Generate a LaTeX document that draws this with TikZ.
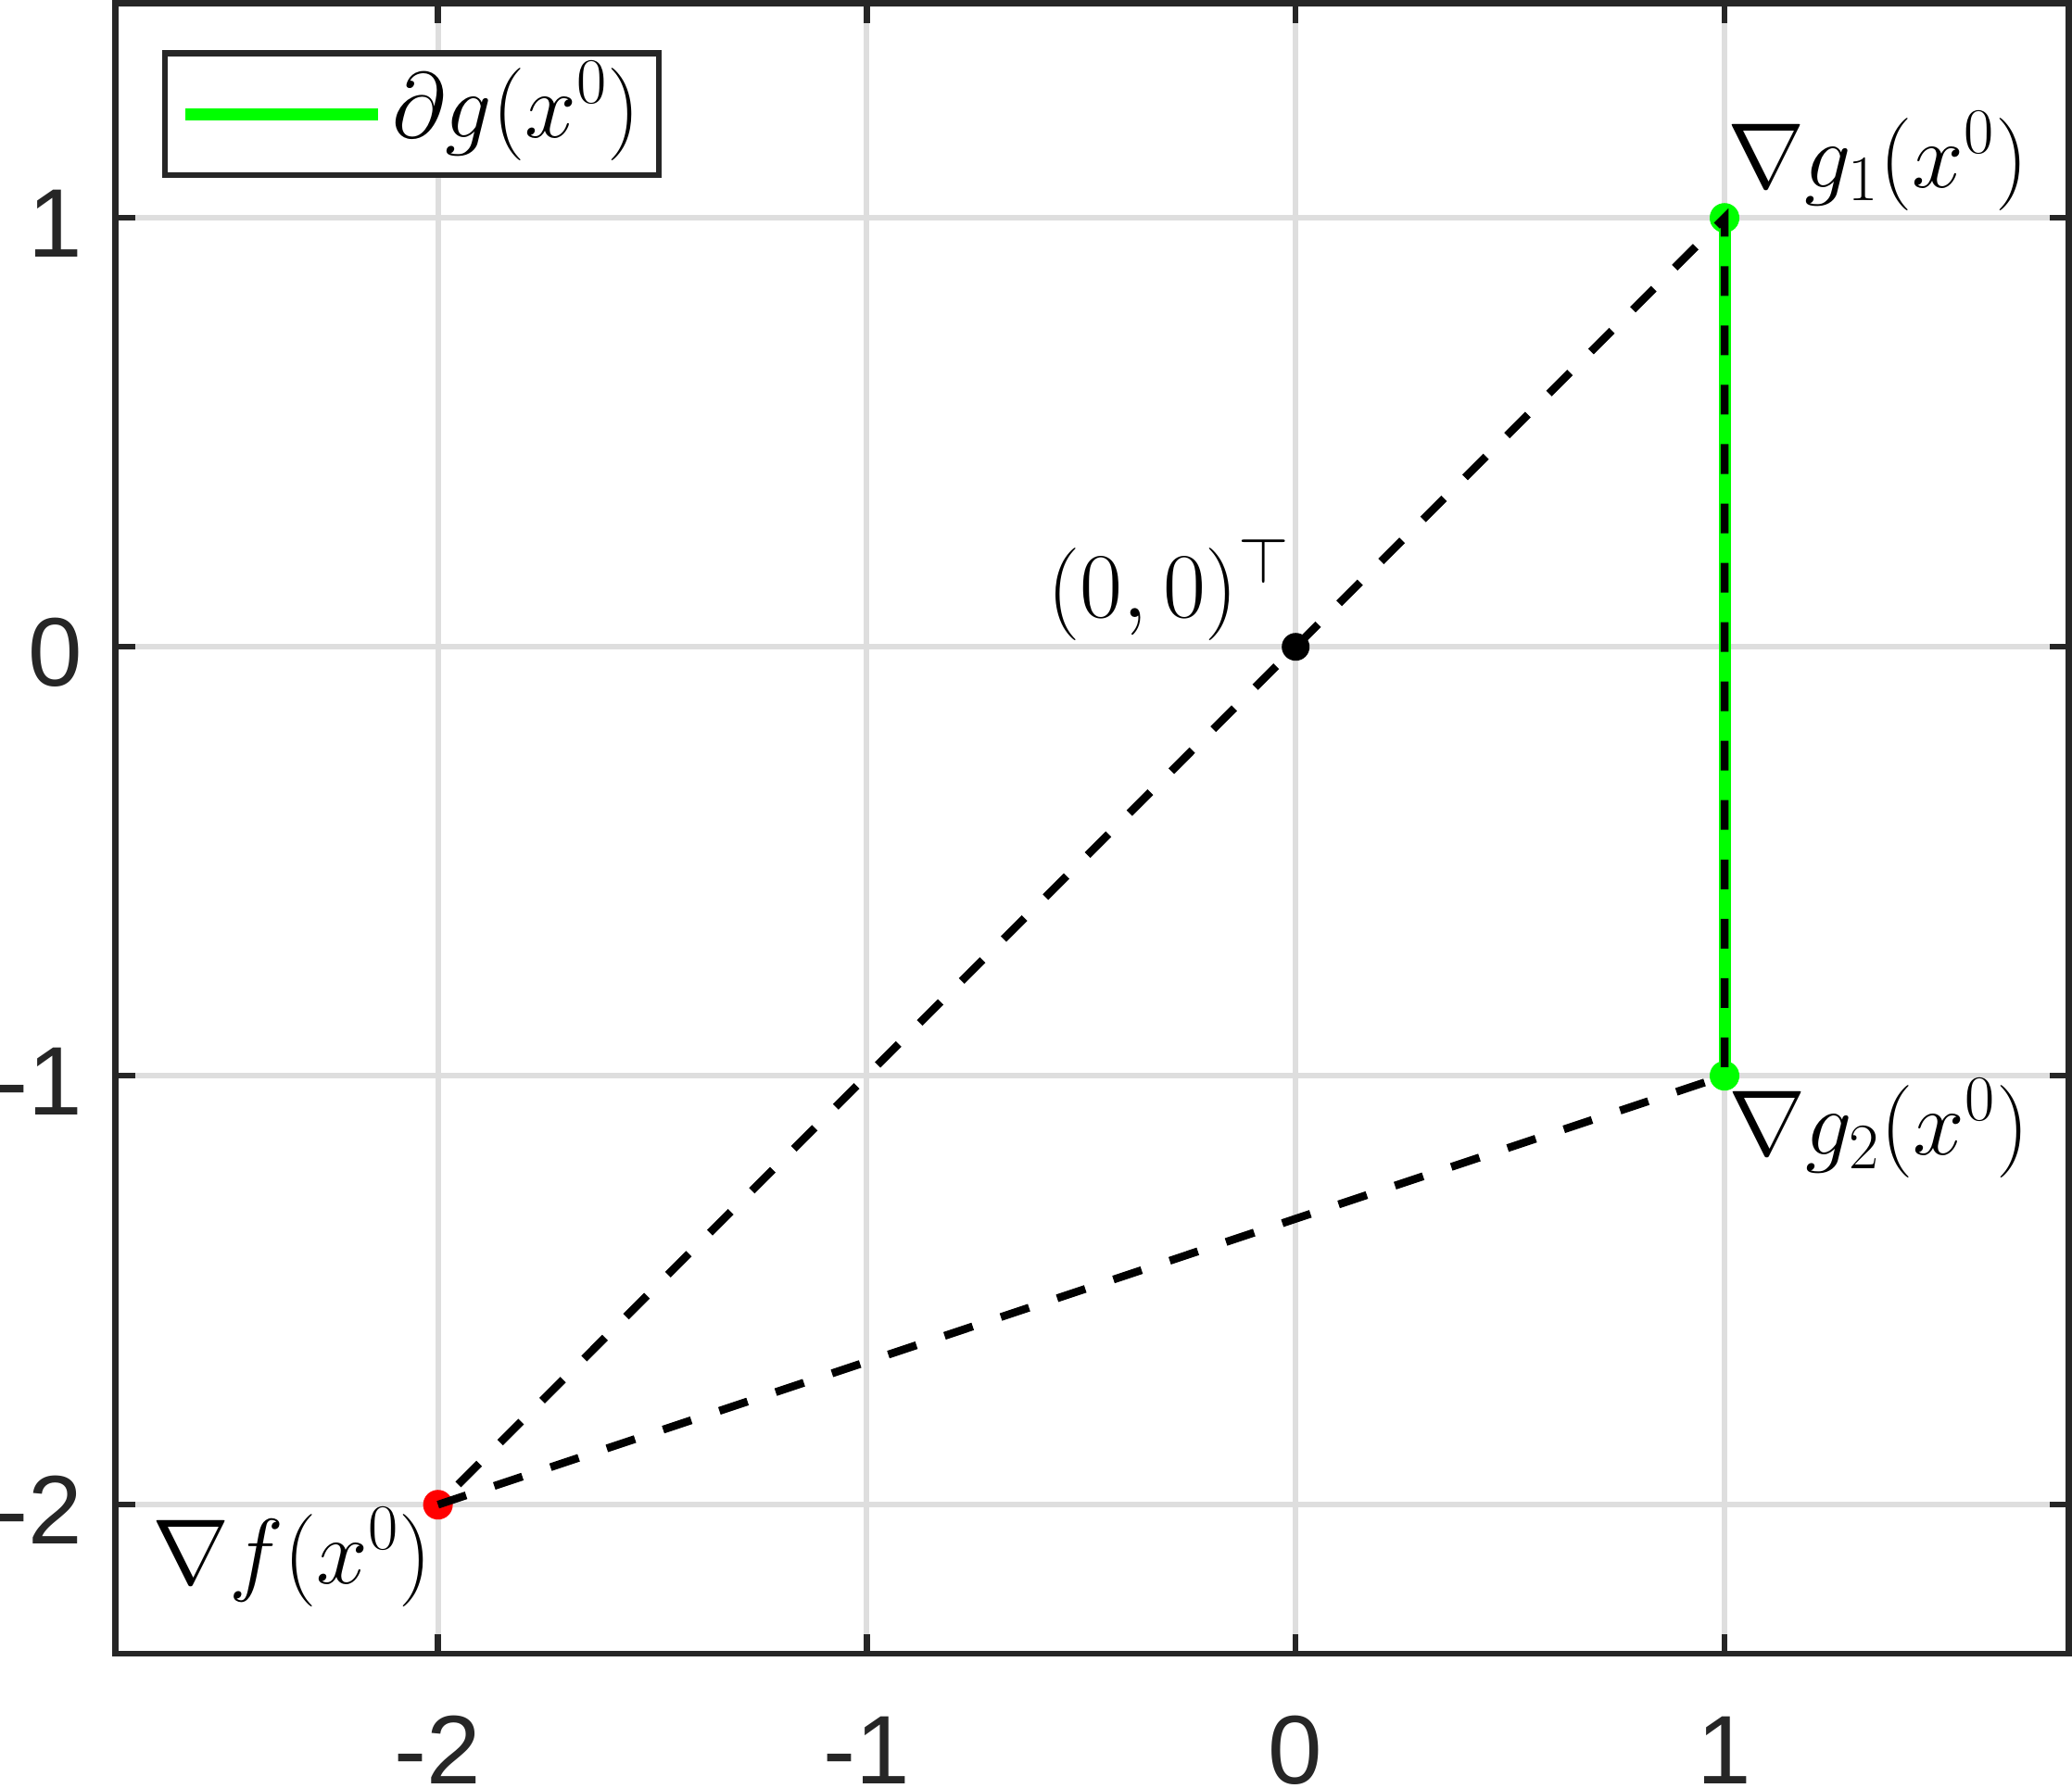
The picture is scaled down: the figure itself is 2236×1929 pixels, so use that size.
\RequirePackage{fix-cm}
\documentclass[tikz,border=0pt]{standalone}
\usepackage{fontspec}
\newfontfamily\ticklabelfont{Liberation Sans}
\definecolor{axc}{HTML}{262626}
\definecolor{gridc}{HTML}{DEDEDE}
\definecolor{mgreen}{HTML}{00FF00}
\begin{document}
\begin{tikzpicture}[x=0.01cm,y=-0.01cm,
  gridln/.style={draw=gridc,line width=0.06cm},
  axisln/.style={draw=axc,line width=0.068cm},
  tickln/.style={draw=axc,line width=0.065cm},
  ticklbl/.style={text=axc,inner sep=0pt,font=\ticklabelfont\fontsize{29.9pt}{36pt}\selectfont},
  mathlbl/.style={inner sep=0pt,font=\fontsize{28.4pt}{34pt}\selectfont},
  dashln/.style={draw=black,line width=0.085cm,dash pattern=on 0.32cm off 0.32cm},
  subgrad/.style={draw=mgreen,line width=0.13cm},
  dotmark/.style={circle,inner sep=0pt,minimum size=0.32cm}]
\useasboundingbox (0,0) rectangle (2236,1929);
\fill[white] (0,0) rectangle (2236,1929);
% grid
\foreach \gx in {472.6,935.4,1398.2,1861} \draw[gridln] (\gx,3.5) -- (\gx,1785);
\foreach \gy in {235.2,698.2,1161.2,1624.2} \draw[gridln] (124.5,\gy) -- (2232.5,\gy);
% ticks
\foreach \gx in {472.6,935.4,1398.2,1861} {
  \draw[tickln] (\gx,1785) -- (\gx,1764);
  \draw[tickln] (\gx,3.5) -- (\gx,24.5);
}
\foreach \gy in {235.2,698.2,1161.2,1624.2} {
  \draw[tickln] (124.5,\gy) -- (145.5,\gy);
  \draw[tickln] (2232.5,\gy) -- (2211.5,\gy);
}
% axes box
\draw[axisln] (124.5,3.5) rectangle (2232.5,1785);
% tick labels
\node[ticklbl,anchor=base] (xlA) at (472.6,1925) {-2};
\node[ticklbl,anchor=base] (xlB) at (935.4,1925) {-1};
\node[ticklbl,anchor=base] (xlC) at (1398.2,1925) {0};
\node[ticklbl,anchor=base] (xlD) at (1861,1925) {1};
\node[ticklbl,anchor=base east] (ylA) at (90,277) {1};
\node[ticklbl,anchor=base east] (ylB) at (90,740) {0};
\node[ticklbl,anchor=base east] (ylC) at (90,1203) {-1};
\node[ticklbl,anchor=base east] (ylD) at (90,1666) {-2};
% data points
\coordinate (f) at (472.6,1624.2);
\coordinate (g1) at (1861,235.2);
\coordinate (g2) at (1861,1161.2);
\coordinate (o) at (1398.2,698.2);
\draw[subgrad] (g1) -- (g2);
\node[dotmark,fill=mgreen] (g1dot) at (g1) {};
\node[dotmark,fill=mgreen] (g2dot) at (g2) {};
\node[dotmark,fill=red] (fdot) at (f) {};
\node[dotmark,fill=black,minimum size=0.30cm] (odot) at (o) {};
\draw[dashln] (f) -- (g2) -- (g1) -- (f);
% labels
\node[mathlbl,anchor=base west] (g1lbl) at (1864,202) {$\nabla g_1(x^0)$};
\node[mathlbl,anchor=base west] (g2lbl) at (1865,1246) {$\nabla g_2(x^0)$};
\node[mathlbl,anchor=base east] (flbl) at (467,1709) {$\nabla f(x^0)$};
\node[mathlbl,anchor=base east] (olbl) at (1393,666) {$(0,0)^\top$};
% legend
\draw[axisln,fill=white] (178,57.7) rectangle (711,189);
\coordinate (ls) at (200,123);
\coordinate (le) at (408,123);
\draw[subgrad] (ls) -- (le);
\node[mathlbl,anchor=base west] (leglbl) at (423,148) {$\partial g(x^0)$};
\end{tikzpicture}
\end{document}
